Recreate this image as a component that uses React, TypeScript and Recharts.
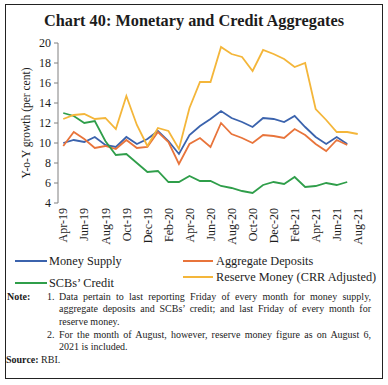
import { LineChart, Line, XAxis, YAxis } from 'recharts';

const MONTHS = [
  'Apr-19', 'May-19', 'Jun-19', 'Jul-19', 'Aug-19', 'Sep-19', 'Oct-19', 'Nov-19', 'Dec-19',
  'Jan-20', 'Feb-20', 'Mar-20', 'Apr-20', 'May-20', 'Jun-20', 'Jul-20', 'Aug-20', 'Sep-20',
  'Oct-20', 'Nov-20', 'Dec-20', 'Jan-21', 'Feb-21', 'Mar-21', 'Apr-21', 'May-21', 'Jun-21',
  'Jul-21', 'Aug-21'
];

const MONEY_SUPPLY = [
  10.0, 10.3, 10.1, 10.6, 9.8, 9.6, 10.6, 9.9, 10.4, 11.2, 10.2, 8.9, 10.8, 11.7, 12.4,
  13.2, 12.5, 12.1, 11.6, 12.5, 12.4, 12.1, 12.7, 11.6, 10.6, 9.9, 10.6, 9.9, null
];

const AGGREGATE_DEPOSITS = [
  9.7, 11.1, 10.4, 9.5, 9.7, 9.4, 10.3, 9.5, 9.6, 11.1, 10.1, 7.9, 9.9, 10.5, 9.6,
  12.0, 10.9, 10.5, 10.0, 10.8, 10.7, 10.5, 11.4, 10.8, 9.9, 9.2, 10.3, 9.8, null
];

const SCB_CREDIT = [
  13.0, 12.7, 12.0, 12.2, 10.2, 8.8, 8.9, 8.0, 7.1, 7.2, 6.1, 6.1, 6.7, 6.2, 6.2,
  5.7, 5.5, 5.2, 5.0, 5.8, 6.1, 5.9, 6.6, 5.6, 5.7, 6.0, 5.8, 6.1, null
];

const RESERVE_MONEY = [
  12.4, 12.8, 12.9, 12.4, 12.5, 11.4, 14.7, 11.8, 9.7, 11.5, 11.2, 9.4, 13.5, 16.1, 16.1,
  19.6, 18.9, 18.6, 17.2, 19.3, 18.9, 18.4, 17.6, 18.0, 13.4, 12.3, 11.1, 11.1, 10.9
];

const Y_TICKS = [4, 6, 8, 10, 12, 14, 16, 18, 20];

const SERIES = [
  { key: 'money', name: 'Money Supply', color: '#3B63AD', values: MONEY_SUPPLY },
  { key: 'deposits', name: 'Aggregate Deposits', color: '#E8743B', values: AGGREGATE_DEPOSITS },
  { key: 'credit', name: 'SCBs\u2019 Credit', color: '#2F9E4A', values: SCB_CREDIT },
  { key: 'reserve', name: 'Reserve Money (CRR Adjusted)', color: '#F4B63A', values: RESERVE_MONEY }
];

const data = MONTHS.map((month, i) => {
  const row: Record<string, number | string | null> = { idx: i, month };
  SERIES.forEach((s) => {
    row[s.key] = s.values[i];
  });
  return row;
});

const labelTicks = MONTHS.map((_, i) => i).filter((i) => i % 2 === 0);
const markTicks = labelTicks.map((i) => i - 0.5);
const xDomain = [-0.5, MONTHS.length - 0.5];

const FONT = "'Liberation Serif', 'Times New Roman', serif";
const TEXT = '#1c1c1c';

function MonthTick({ x, y, payload }: any) {
  return (
    <text
      x={x}
      y={y}
      transform={`rotate(-90, ${x}, ${y})`}
      textAnchor="end"
      dy="0.35em"
      fontSize={12}
      fontFamily={FONT}
      fill={TEXT}
    >
      {MONTHS[payload.value]}
    </text>
  );
}

function AxisTitle({ viewBox }: any) {
  const cx = viewBox.x + 18;
  const cy = viewBox.y + viewBox.height / 2;
  return (
    <text
      x={cx}
      y={cy}
      transform={`rotate(-90, ${cx}, ${cy})`}
      textAnchor="middle"
      dominantBaseline="central"
      fontSize={11.5}
      fontFamily={FONT}
      fill={TEXT}
    >
      Y-o-Y growth (per cent)
    </text>
  );
}

// legend slots, in SERIES order
const LEGEND_POS = [
  { left: 15, top: 261 },
  { left: 183, top: 261 },
  { left: 15, top: 283 },
  { left: 183, top: 277 }
];

const noteLine = { position: 'absolute' as const, lineHeight: '12px', whiteSpace: 'nowrap' as const };

export default function App() {
  return (
    <div
      style={{
        position: 'absolute',
        left: 0,
        top: 0,
        width: 388,
        height: 385,
        background: '#fff',
        fontFamily: FONT,
        color: TEXT
      }}
    >
      <div
        style={{
          position: 'absolute',
          left: 5,
          top: 4,
          width: 378,
          height: 375,
          border: '1px solid #222',
          boxSizing: 'border-box'
        }}
      />
      <div
        style={{
          position: 'absolute',
          left: 5,
          width: 378,
          top: 11,
          lineHeight: '20px',
          textAlign: 'center',
          fontSize: 16.3,
          fontWeight: 'bold'
        }}
      >
        Chart 40: Monetary and Credit Aggregates
      </div>

      <div style={{ position: 'absolute', left: 0, top: 0 }}>
        <LineChart
          width={388}
          height={260}
          data={data}
          margin={{ top: 43, right: 25, bottom: 0, left: 8 }}
        >
          <XAxis
            xAxisId="marks"
            type="number"
            dataKey="idx"
            domain={xDomain}
            ticks={markTicks}
            height={0}
            tickSize={5}
            tick={() => <g />}
            axisLine={{ stroke: '#333' }}
            tickLine={{ stroke: '#333' }}
          />
          <XAxis
            xAxisId="labels"
            type="number"
            dataKey="idx"
            domain={xDomain}
            ticks={labelTicks}
            height={57}
            tickSize={0}
            tickMargin={5}
            axisLine={false}
            tickLine={false}
            tick={<MonthTick />}
            interval={0}
          />
          <YAxis
            domain={[4, 20]}
            ticks={Y_TICKS}
            width={50}
            tickSize={4}
            tickMargin={3}
            axisLine={{ stroke: '#808080' }}
            tickLine={{ stroke: '#808080' }}
            tick={{ fontSize: 12, fontFamily: FONT, fill: TEXT }}
            label={AxisTitle}
          />
          {SERIES.map((s) => (
            <Line
              key={s.key}
              xAxisId="labels"
              dataKey={s.key}
              name={s.name}
              stroke={s.color}
              strokeWidth={1.8}
              dot={false}
              isAnimationActive={false}
            />
          ))}
        </LineChart>
      </div>

      {SERIES.map((s, i) => (
        <div
          key={s.key}
          style={{
            position: 'absolute',
            left: LEGEND_POS[i].left,
            top: LEGEND_POS[i].top - 8,
            height: 16,
            display: 'flex',
            alignItems: 'center',
            fontSize: 12.3,
            whiteSpace: 'nowrap'
          }}
        >
          <span
            style={{
              display: 'inline-block',
              width: i % 2 === 0 ? 32 : 30,
              height: 2,
              background: s.color,
              marginRight: i % 2 === 0 ? 2 : 3
            }}
          />
          {s.name}
        </div>
      ))}

      <div style={{ fontSize: 10 }}>
        <div style={{ ...noteLine, left: 7, top: 291, fontWeight: 'bold' }}>Note:</div>
        <div style={{ ...noteLine, left: 47, top: 291 }}>1.</div>
        <div style={{ ...noteLine, left: 59, top: 291, width: 312, textAlign: 'justify', textAlignLast: 'justify' }}>
          Data pertain to last reporting Friday of every month for money supply,
        </div>
        <div style={{ ...noteLine, left: 59, top: 303, width: 312, textAlign: 'justify', textAlignLast: 'justify' }}>
          aggregate deposits and SCBs’ credit; and last Friday of every month for
        </div>
        <div style={{ ...noteLine, left: 59, top: 316 }}>reserve money.</div>
        <div style={{ ...noteLine, left: 47, top: 329 }}>2.</div>
        <div style={{ ...noteLine, left: 59, top: 329, width: 312, textAlign: 'justify', textAlignLast: 'justify' }}>
          For the month of August, however, reserve money figure as on August 6,
        </div>
        <div style={{ ...noteLine, left: 59, top: 341 }}>2021 is included.</div>
        <div style={{ ...noteLine, left: 6, top: 354 }}>
          <b>Source:</b> RBI.
        </div>
      </div>
    </div>
  );
}
